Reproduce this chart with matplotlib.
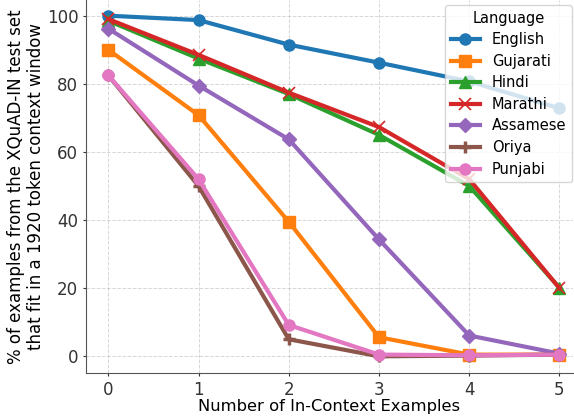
import numpy as np
import matplotlib.pyplot as plt

n_examples = [0, 1, 2, 3, 4, 5]
english = [100, 98.7, 91.5, 86.2, 80.7, 72.8]
gujarati = [90, 70.8, 39.5, 5.6, 0.5, 0.5]
hindi = [98.5, 87.4, 77.0, 65.0, 50.0, 20.1]
marathi = [99, 88.5, 77.4, 67.3, 52.0, 20.0]
assamese = [96.2, 79.5, 63.7, 34.3, 6.1, 0.8]
oriya = [82.5, 50.0, 5.0, 0.0, 0.2, 0.5]
punjabi = [82.5, 52.0, 9.2, 0.5, 0.3, 0.5]

series = [
    ("English", english, "o", 8, 1),
    ("Gujarati", gujarati, "s", 8, 1),
    ("Hindi", hindi, "^", 8, 1),
    ("Marathi", marathi, "x", 8, 1.2),
    ("Assamese", assamese, "D", 7, 1),
    ("Oriya", oriya, "+", 9, 2.5),
    ("Punjabi", punjabi, "o", 8, 1),
]

fig = plt.figure(figsize=(5.74, 4.16), dpi=100)
ax = fig.add_axes([86 / 574, 43 / 416, 487 / 574, 373 / 416])
for name, vals, mk, ms, mew in series:
    ax.plot(n_examples, vals, marker=mk, markersize=ms, linewidth=3,
            markeredgewidth=mew, label=name)

ax.set_xlabel("Number of In-Context Examples", fontsize=11.8, labelpad=0)
ax.set_ylabel("% of examples from the XQuAD-IN test set\nthat fit in a 1920 token context window",
              fontsize=12, labelpad=1)
ax.tick_params(labelsize=12, colors="#333333", length=2.5, pad=3)
ax.set_xticks(n_examples)
ax.set_yticks([0, 20, 40, 60, 80, 100])
ax.set_ylim(-4.9, 104.6)
ax.set_xlim(-0.247, 5.15)
ax.grid(True, linestyle="--", alpha=0.5, linewidth=0.7)
ax.spines["top"].set_visible(False)
ax.spines["right"].set_visible(False)
for s in ("left", "bottom"):
    ax.spines[s].set_color("#555555")
leg = ax.legend(title="Language", fontsize=10.5, title_fontsize=10.5,
                loc="upper right", bbox_to_anchor=(0.998, 0.987),
                borderaxespad=0, labelspacing=0.45)
plt.savefig("out.png", dpi=100)
